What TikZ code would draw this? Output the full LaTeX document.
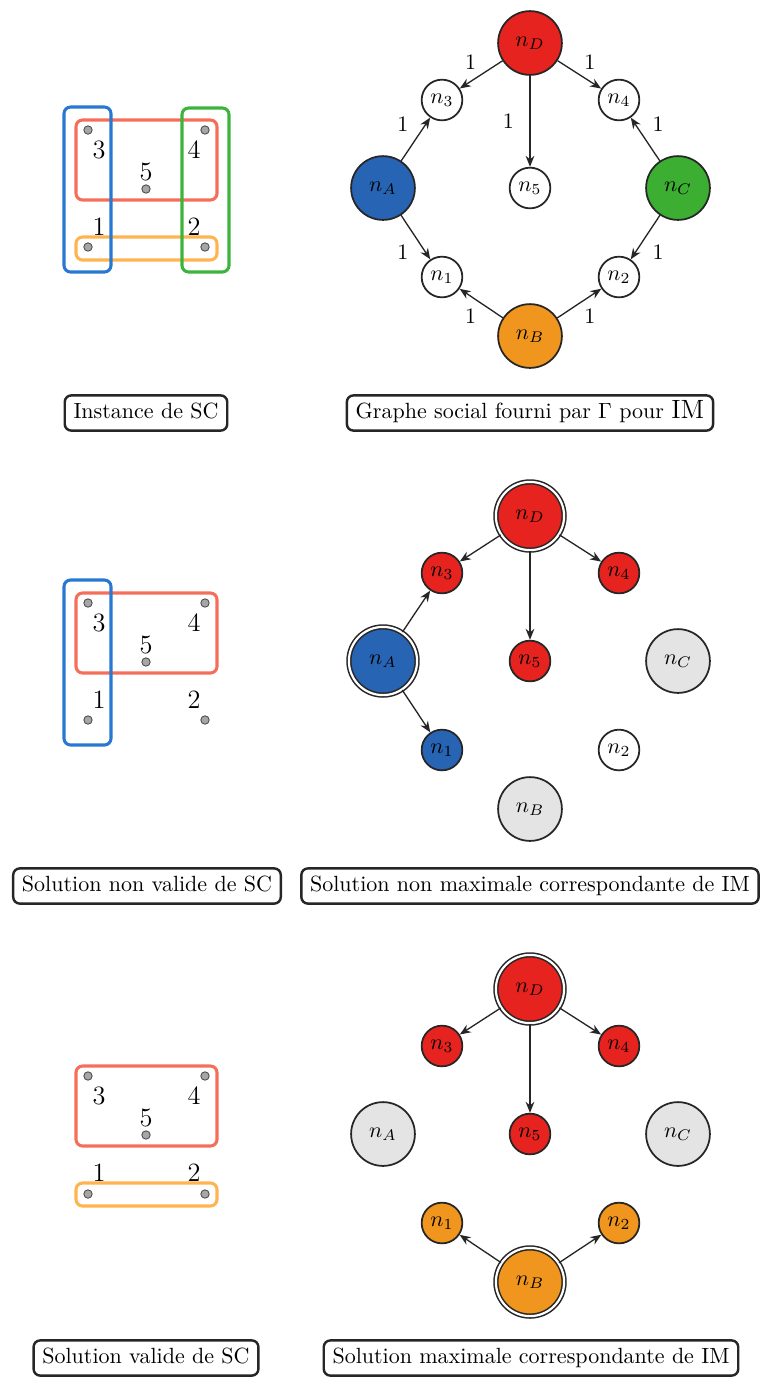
\documentclass[tikz,border=0pt]{standalone}
\usetikzlibrary{arrows.meta}
\definecolor{cRed}{RGB}{230,35,30}
\definecolor{cBlue}{RGB}{40,100,180}
\definecolor{cGreen}{RGB}{60,175,50}
\definecolor{cOrange}{RGB}{240,150,30}
\definecolor{cGray}{RGB}{228,228,228}
\definecolor{sRed}{RGB}{245,110,90}
\definecolor{sOrange}{RGB}{255,180,80}
\definecolor{sBlue}{RGB}{40,120,210}
\definecolor{sGreen}{RGB}{60,180,60}
\tikzset{
  big/.style={circle, draw=black!85, line width=0.8pt, minimum size=29pt, inner sep=0pt},
  small/.style={circle, draw=black!85, line width=0.8pt, minimum size=18.5pt, inner sep=0pt},
  seed/.style={circle, draw=black!85, double=white, double distance=1pt, line width=0.7pt, minimum size=31pt, inner sep=0pt},
  arr/.style={-{Stealth[length=5pt,width=4pt]}, line width=0.6pt, draw=black!85},
  lbl/.style={inner sep=2pt},
  capbox/.style={draw=black!85, rounded corners=3pt, line width=1.1pt, fill=white, inner xsep=4pt, inner ysep=3.5pt, text height=7pt, text depth=2pt},
  elem/.style={circle, draw=black!70, fill=black!35, line width=0.4pt, minimum size=3.8pt, inner sep=0pt},
  digit/.style={font=\large, inner sep=0pt},
  setbox/.style={rounded corners=3pt, line width=1.4pt}
}
\begin{document}
\begin{tikzpicture}[x=0.4545pt,y=-0.4545pt]
\useasboundingbox (0,0) rectangle (760,1377);

% ================= TOP PANEL =================
\draw[setbox, sRed] (76,120) rectangle (217,200);
\draw[setbox, sOrange] (76,237) rectangle (217,260);
\draw[setbox, sBlue] (64,107) rectangle (111,272);
\draw[setbox, sGreen] (182,108) rectangle (229,272);
\node[elem] (te3) at (88,130) {};
\node[elem] (te4) at (205,130) {};
\node[elem] (te5) at (146,189) {};
\node[elem] (te1) at (88,247) {};
\node[elem] (te2) at (205,247) {};
\node[digit] (td3) at (99,150) {3};
\node[digit] (td4) at (194,150) {4};
\node[digit] (td5) at (146,172) {5};
\node[digit] (td1) at (99,227) {1};
\node[digit] (td2) at (194,227) {2};

\node[big, fill=cRed] (tD) at (530,43) {$n_D$};
\node[small, fill=white] (t3) at (442,100) {$n_3$};
\node[small, fill=white] (t4) at (619,100) {$n_4$};
\node[big, fill=cBlue] (tA) at (383,188) {$n_A$};
\node[small, fill=white] (t5) at (530,188) {$n_5$};
\node[big, fill=cGreen] (tC) at (678,188) {$n_C$};
\node[small, fill=white] (t1) at (442,277) {$n_1$};
\node[small, fill=white] (t2) at (619,277) {$n_2$};
\node[big, fill=cOrange] (tB) at (530,336) {$n_B$};
\draw[arr] (tD) -- node[lbl, above left]{1} (t3);
\draw[arr] (tD) -- node[lbl, above right]{1} (t4);
\draw[arr] (tD) -- node[lbl, left=5pt]{1} (t5);
\draw[arr] (tA) -- node[lbl, above left=1pt]{1} (t3);
\draw[arr] (tA) -- node[lbl, below left=1pt]{1} (t1);
\draw[arr] (tB) -- node[lbl, below left]{1} (t1);
\draw[arr] (tB) -- node[lbl, below right]{1} (t2);
\draw[arr] (tC) -- node[lbl, above right=1pt]{1} (t4);
\draw[arr] (tC) -- node[lbl, below right=1pt]{1} (t2);

\node[capbox] (tcapL) at (146,413) {Instance de SC};
\node[capbox] (tcapR) at (530,413) {Graphe social fourni par $\Gamma$ pour {\large IM}};

% ================= MIDDLE PANEL =================
\draw[setbox, sRed] (76,593) rectangle (217,673);
\draw[setbox, sBlue] (64,580) rectangle (111,745);
\node[elem] (me3) at (88,603) {};
\node[elem] (me4) at (205,603) {};
\node[elem] (me5) at (146,662) {};
\node[elem] (me1) at (88,720) {};
\node[elem] (me2) at (205,720) {};
\node[digit] (md3) at (99,623) {3};
\node[digit] (md4) at (194,623) {4};
\node[digit] (md5) at (146,645) {5};
\node[digit] (md1) at (99,700) {1};
\node[digit] (md2) at (194,700) {2};

\node[seed, fill=cRed] (mD) at (530,516) {$n_D$};
\node[small, fill=cRed] (m3) at (442,573) {$n_3$};
\node[small, fill=cRed] (m4) at (619,573) {$n_4$};
\node[seed, fill=cBlue] (mA) at (383,661) {$n_A$};
\node[small, fill=cRed] (m5) at (530,661) {$n_5$};
\node[big, fill=cGray] (mC) at (678,661) {$n_C$};
\node[small, fill=cBlue] (m1) at (442,750) {$n_1$};
\node[small, fill=white] (m2) at (619,750) {$n_2$};
\node[big, fill=cGray] (mB) at (530,809) {$n_B$};
\draw[arr] (mD) -- (m3);
\draw[arr] (mD) -- (m4);
\draw[arr] (mD) -- (m5);
\draw[arr] (mA) -- (m3);
\draw[arr] (mA) -- (m1);

\node[capbox] (mcapL) at (147,886) {Solution non valide de SC};
\node[capbox] (mcapR) at (530,886) {Solution non maximale correspondante de IM};

% ================= BOTTOM PANEL =================
\draw[setbox, sRed] (76,1066) rectangle (217,1146);
\draw[setbox, sOrange] (76,1183) rectangle (217,1206);
\node[elem] (be3) at (88,1076) {};
\node[elem] (be4) at (205,1076) {};
\node[elem] (be5) at (146,1135) {};
\node[elem] (be1) at (88,1194) {};
\node[elem] (be2) at (205,1194) {};
\node[digit] (bd3) at (99,1096) {3};
\node[digit] (bd4) at (194,1096) {4};
\node[digit] (bd5) at (146,1118) {5};
\node[digit] (bd1) at (99,1173) {1};
\node[digit] (bd2) at (194,1173) {2};

\node[seed, fill=cRed] (bD) at (530,989) {$n_D$};
\node[small, fill=cRed] (b3) at (442,1046) {$n_3$};
\node[small, fill=cRed] (b4) at (619,1046) {$n_4$};
\node[big, fill=cGray] (bA) at (383,1134) {$n_A$};
\node[small, fill=cRed] (b5) at (530,1134) {$n_5$};
\node[big, fill=cGray] (bC) at (678,1134) {$n_C$};
\node[small, fill=cOrange] (b1) at (442,1223) {$n_1$};
\node[small, fill=cOrange] (b2) at (619,1223) {$n_2$};
\node[seed, fill=cOrange] (bB) at (530,1282) {$n_B$};
\draw[arr] (bD) -- (b3);
\draw[arr] (bD) -- (b4);
\draw[arr] (bD) -- (b5);
\draw[arr] (bB) -- (b1);
\draw[arr] (bB) -- (b2);

\node[capbox] (bcapL) at (146,1358) {Solution valide de SC};
\node[capbox] (bcapR) at (531,1358) {Solution maximale correspondante de IM};
\end{tikzpicture}
\end{document}
